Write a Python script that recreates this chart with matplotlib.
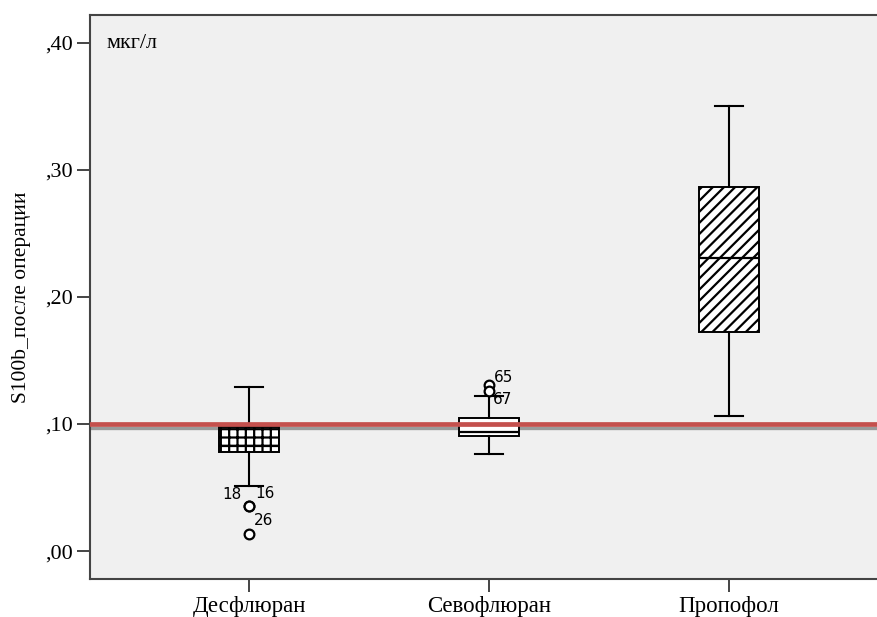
import matplotlib.pyplot as plt

# S100b after surgery, mkg/l
groups = ["Десфлюран", "Севофлюран", "Пропофол"]
whis_lo = [0.0512, 0.0761, 0.106]
q1 = [0.0782, 0.0906, 0.1724]
medians = [0.0827, 0.094, 0.2307]
q3 = [0.0974, 0.1045, 0.2866]
whis_hi = [0.129, 0.1223, 0.350]
outliers = [[0.0352, 0.0352, 0.0131], [0.1307, 0.126], []]
outlier_ids = [["18", "16", "26"], ["65", "67"], []]
id_offsets = [[(-17, 12), (16, 13), (15, 14)], [(15, 8), (14, -8)], []]
hatches = ["++", "", "///"]

ref_red = 0.0997
ref_gray = 0.0966
yticks = [0.0, 0.1, 0.2, 0.3, 0.4]
ytick_labels = [",00", ",10", ",20", ",30", ",40"]

plt.rcParams["hatch.linewidth"] = 1.6
serif = "Liberation Serif"

fig = plt.figure(figsize=(8.77, 6.17), dpi=100)
ax = fig.add_axes([90 / 877, 38 / 617, 787 / 877, 564 / 617])
ax.set_facecolor("#f0f0f0")

stats = []
for i in range(len(groups)):
    stats.append({"whislo": whis_lo[i], "q1": q1[i], "med": medians[i],
                  "q3": q3[i], "whishi": whis_hi[i], "fliers": outliers[i]})

ax.axhline(ref_gray, color="#9a9a9a", lw=2.4, zorder=1)

pos = [1, 2, 3]
bp = ax.bxp(stats, positions=pos, widths=0.25, capwidths=0.12,
            patch_artist=True,
            boxprops=dict(facecolor="white", edgecolor="black", lw=1.4),
            medianprops=dict(color="black", lw=1.6),
            whiskerprops=dict(color="black", lw=1.5),
            capprops=dict(color="black", lw=1.5),
            flierprops=dict(marker="o", markerfacecolor="white",
                            markeredgecolor="black", markersize=7,
                            markeredgewidth=1.6),
            zorder=2)
for box, h in zip(bp["boxes"], hatches):
    box.set_hatch(h)

ax.axhline(ref_red, color="#c4504d", lw=3.4, zorder=5)

for i in range(len(groups)):
    for val, lab, off in zip(outliers[i], outlier_ids[i], id_offsets[i]):
        ax.annotate(lab, (pos[i], val), xytext=off, textcoords="offset pixels",
                    ha="center", va="center", fontsize=11, family="DejaVu Sans")

ax.set_xlim(0.3375, 3.617)
ax.set_ylim(-0.022, 0.422)
ax.set_xticks(pos)
ax.set_xticklabels(groups, family=serif, fontsize=16.5)
ax.set_yticks(yticks)
ax.set_yticklabels(ytick_labels, family=serif, fontsize=16)
ax.tick_params(length=9.5, width=1.4, color="#444444", pad=3)
ax.set_ylabel("S100b_после операции", family=serif, fontsize=15.5, labelpad=10)

for side in ["left", "top", "bottom"]:
    ax.spines[side].set_color("#444444")
    ax.spines[side].set_linewidth(1.5)
ax.spines["right"].set_visible(False)

ax.text(0.0216, 0.950, "мкг/л", transform=ax.transAxes, family=serif,
        fontsize=16, ha="left", va="center")

fig.savefig("out.png", dpi=100)
